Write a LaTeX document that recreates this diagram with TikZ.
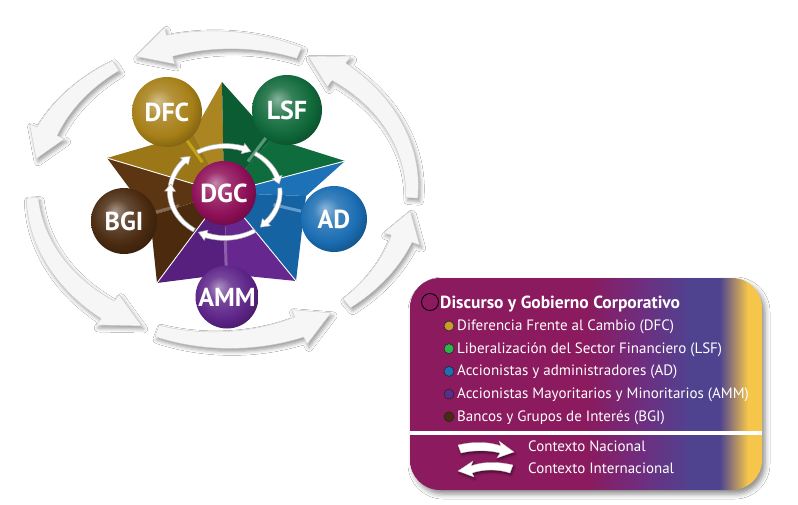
\documentclass[tikz,border=0pt]{standalone}
\usepackage{fontspec}
\setmainfont{PT Sans}
\usetikzlibrary{arrows.meta,shadows.blur,calc}
\definecolor{goldA}{HTML}{AB8521}
\definecolor{goldB}{HTML}{9B7718}
\definecolor{greenA}{HTML}{0F6C3D}
\definecolor{greenB}{HTML}{0B5C32}
\definecolor{blueA}{HTML}{1D72B7}
\definecolor{blueB}{HTML}{1663A4}
\definecolor{purA}{HTML}{66288F}
\definecolor{purB}{HTML}{57207F}
\definecolor{brnA}{HTML}{5C3513}
\definecolor{brnB}{HTML}{4B2A0E}
\definecolor{cDFC}{HTML}{A67F17}
\definecolor{cLSF}{HTML}{10693A}
\definecolor{cAD}{HTML}{1A6DB2}
\definecolor{cAMM}{HTML}{5E2589}
\definecolor{cBGI}{HTML}{4A2A10}
\definecolor{cDGC}{HTML}{8E0F58}
\definecolor{lmag}{HTML}{8B1A5E}
\definecolor{lmid}{HTML}{6E2E80}
\definecolor{lpur}{HTML}{4F4390}
\definecolor{lyel}{HTML}{F5C64A}
\definecolor{bgold}{HTML}{C99A2E}
\definecolor{bgreen}{HTML}{2DB34A}
\definecolor{bblue}{HTML}{1E6FB5}
\definecolor{bpur}{HTML}{5B2D8A}
\definecolor{bbrn}{HTML}{4A2A10}
\colorlet{sphcol}{cDFC}
\pgfdeclareradialshading[sphcol]{sphere}{\pgfpoint{-7bp}{8bp}}{color(0bp)=(sphcol!50!white); color(10bp)=(sphcol!85!white); color(22bp)=(sphcol); color(32bp)=(sphcol!70!black); color(50bp)=(sphcol!60!black)}
\pgfdeclarehorizontalshading{legendgrad}{100bp}{color(0bp)=(lmag); color(50bp)=(lmag); color(58bp)=(lmid); color(65bp)=(lpur); color(69bp)=(lpur); color(73bp)=(lyel); color(100bp)=(lyel)}
% elliptical band arrow: cx, cy, rx, ry, tail angle, head-base angle, tip angle, tail half width, head half width
\newcommand{\EllArrowPath}[9]{plot[domain=#5:#6,samples=30,variable=\t] ({#1+(#3+#8+(#9-#8)*(\t-(#5))/(#6-(#5)))*cos(\t)},{#2-(#4+#8+(#9-#8)*(\t-(#5))/(#6-(#5)))*sin(\t)}) -- ({#1+(#3+\ebarb)*cos(#6)},{#2-(#4+\ebarb)*sin(#6)}) -- ({#1+#3*cos(#7)},{#2-#4*sin(#7)}) -- ({#1+(#3-\ebarb)*cos(#6)},{#2-(#4-\ebarb)*sin(#6)}) -- plot[domain=#6:#5,samples=30,variable=\t] ({#1+(#3-#8-(#9-#8)*(\t-(#5))/(#6-(#5)))*cos(\t)},{#2-(#4-#8-(#9-#8)*(\t-(#5))/(#6-(#5)))*sin(\t)}) -- cycle}
\tikzset{
  outerarrow/.style={fill=gray!7, draw=gray!40, line width=0.4pt, line join=round,
    blur shadow={shadow xshift=2pt, shadow yshift=-3pt, shadow blur radius=4pt, shadow opacity=40}},
  innerarrow/.style={fill=white, draw=gray!65, line width=0.5pt, line join=round},
  ballnode/.style={circle, minimum size=#1, inner sep=0pt, shading=sphere, text=white,
    font=\bfseries\fontsize{26}{26}\selectfont},
  stub/.style={line width=3pt},
  sepline/.style={white, line width=0.9pt},
  legtitle/.style={anchor=base west, text=white, inner sep=0pt, font=\bfseries\fontsize{17.5}{19}\selectfont},
  legitem/.style={anchor=base west, text=white, inner sep=0pt, font=\fontsize{15}{17}\selectfont},
  bul/.style={circle, draw=black!85, line width=0.6pt, minimum size=10pt, inner sep=0pt},
  smallarrow/.style={fill=white, draw=gray!40, line width=0.3pt,
    blur shadow={shadow xshift=1pt, shadow yshift=-2pt, shadow blur radius=2pt, shadow opacity=50}}
}
\begin{document}
\begin{tikzpicture}[x=1pt,y=-1pt]
\fill[white] (0,0) rectangle (798,504);
\useasboundingbox (0,0) rectangle (798,504);

% ---- outer ring of arrows
\def\ebarb{19}
\foreach \pa/\pb/\pc in {66/106/117, 124/157/168, 183/233/245, 250/294/305, 311/341/352, 357/412/423}{
  \fill[outerarrow] \EllArrowPath{222}{190}{190}{150}{\pa}{\pb}{\pc}{6}{11};
}

% ---- star
\coordinate (C) at (224,193);
\coordinate (T) at (222,82);
\coordinate (UL) at (107,158);
\coordinate (UR) at (345,161);
\coordinate (LL) at (157,283);
\coordinate (LR) at (296,281);
\coordinate (I1) at (193,133);
\coordinate (I2) at (272,138);
\coordinate (I3) at (306,196);
\coordinate (I4) at (227,274);
\coordinate (I5) at (150,216);
\fill[goldA] (C) -- (T) -- (I1) -- cycle;
\fill[goldB] (C) -- (I1) -- (UL) -- cycle;
\fill[greenB] (C) -- (T) -- (I2) -- cycle;
\fill[greenA] (C) -- (I2) -- (UR) -- cycle;
\fill[blueA] (C) -- (UR) -- (I3) -- cycle;
\fill[blueB] (C) -- (I3) -- (LR) -- cycle;
\fill[purA] (C) -- (LR) -- (I4) -- cycle;
\fill[purB] (C) -- (I4) -- (LL) -- cycle;
\fill[brnB] (C) -- (LL) -- (I5) -- cycle;
\fill[brnA] (C) -- (I5) -- (UL) -- cycle;
\draw[sepline] (C) -- (UL);
\draw[sepline] (C) -- (UR);
\draw[sepline] (C) -- (LL);
\draw[sepline] (C) -- (LR);

% ---- circle positions and stubs
\coordinate (pDFC) at (167,112);
\coordinate (pLSF) at (287,110);
\coordinate (pAD) at (334,219);
\coordinate (pAMM) at (227,297);
\coordinate (pBGI) at (124,221);
\coordinate (pDGC) at (224,193);
\draw[stub, goldA!75!yellow] ($(pDFC)!0.3!(pDGC)$) -- ($(pDFC)!0.62!(pDGC)$);
\draw[stub, greenA!70!white] ($(pLSF)!0.3!(pDGC)$) -- ($(pLSF)!0.62!(pDGC)$);
\draw[stub, blueA!70!white] ($(pAD)!0.3!(pDGC)$) -- ($(pAD)!0.55!(pDGC)$);
\draw[stub, purA!75!white] ($(pAMM)!0.3!(pDGC)$) -- ($(pAMM)!0.58!(pDGC)$);
\draw[stub, brnA!75!white] ($(pBGI)!0.3!(pDGC)$) -- ($(pBGI)!0.55!(pDGC)$);

% ---- inner ring of arrows (clockwise)
\def\ebarb{5.5}
\foreach \pa/\pb/\pc in {185/138/129, 120/71/62, 57/19/10, 5/-41/-50, -57/-110/-119, -124/-181/-190}{
  \fill[innerarrow] \EllArrowPath{225}{192}{55}{46}{\pa}{\pb}{\pc}{2}{2.6};
}

% ---- circles
\colorlet{sphcol}{cDFC}
\node[ballnode=70pt] (DFC) at (pDFC) {DFC};
\colorlet{sphcol}{cLSF}
\node[ballnode=70pt] (LSF) at (pLSF) {LSF};
\colorlet{sphcol}{cAD}
\node[ballnode=66pt] (AD) at (pAD) {AD};
\colorlet{sphcol}{cAMM}
\node[ballnode=63pt] (AMM) at (pAMM) {AMM};
\colorlet{sphcol}{cBGI}
\node[ballnode=66pt] (BGI) at (pBGI) {BGI};
\colorlet{sphcol}{cDGC}
\node[ballnode=64pt] (DGC) at (pDGC) {DGC};

% ---- legend box
\node[rectangle, rounded corners=30pt, minimum width=352pt, minimum height=212pt, inner sep=0pt,
  shading=legendgrad,
  blur shadow={shadow xshift=3pt, shadow yshift=-4pt, shadow blur radius=5pt, shadow opacity=45}]
  (leg) at (586,384) {};
\node[bul, fill=lmag, minimum size=17pt, draw=black, line width=0.8pt] (b0) at (430,302) {};
\node[legtitle] (t0) at (440,308) {Discurso y Gobierno Corporativo};
\node[bul, fill=bgold] (b1) at (449,326) {};
\node[legitem] (t1) at (457,330.5) {Diferencia Frente al Cambio (DFC)};
\node[bul, fill=bgreen] (b2) at (449,348.7) {};
\node[legitem] (t2) at (457,353.2) {Liberalización del Sector Financiero (LSF)};
\node[bul, fill=bblue] (b3) at (449,371.4) {};
\node[legitem] (t3) at (457,375.9) {Accionistas y administradores (AD)};
\node[bul, fill=bpur] (b4) at (449,394.1) {};
\node[legitem] (t4) at (457,398.6) {Accionistas Mayoritarios y Minoritarios (AMM)};
\node[bul, fill=bbrn] (b5) at (449,416.8) {};
\node[legitem] (t5) at (457,421.3) {Bancos y Grupos de Interés (BGI)};
\coordinate (s1) at (410,433);
\coordinate (s2) at (762,433);
\draw[white, line width=4pt] (s1) -- (s2);
% small legend arrows
\fill[smallarrow] (458,445) .. controls (475,441) and (490,442) .. (501,446) -- (499,441) -- (514,452) -- (497,458) -- (500,453)
  .. controls (488,450) and (474,450) .. (461,453) -- cycle;
\fill[smallarrow] (513,465) .. controls (496,461) and (481,462) .. (471,466) -- (473,461) -- (458,471) -- (474,477) -- (472,473)
  .. controls (484,469) and (498,469) .. (510,473) -- cycle;
\node[legitem] (t6) at (528,451) {Contexto Nacional};
\node[legitem] (t7) at (528,473) {Contexto Internacional};
\end{tikzpicture}
\end{document}
